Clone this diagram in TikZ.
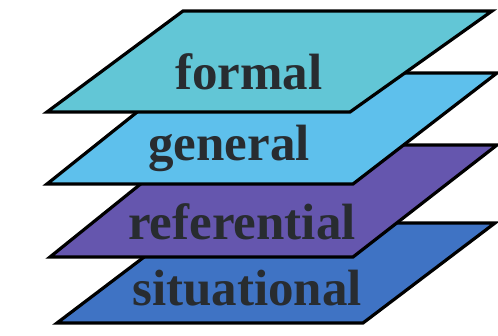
\documentclass[tikz,border=0pt]{standalone}
\usepackage{fontspec}
\setmainfont{Liberation Serif}
\definecolor{formalfill}{RGB}{98,198,214}
\definecolor{generalfill}{RGB}{94,192,236}
\definecolor{reffill}{RGB}{101,86,174}
\definecolor{sitfill}{RGB}{63,115,196}
\definecolor{labeltext}{RGB}{40,44,48}
\begin{document}
\begin{tikzpicture}[x=0.5pt,y=-0.5pt,plane/.style={draw=black,line width=1.6pt,line join=miter},
layer/.style={anchor=base,inner sep=0pt,text=labeltext,font=\fontsize{25.5}{30}\selectfont\bfseries}]

\useasboundingbox (0,0) rectangle (498,336);

% planes from the bottom up, so the upper ones cover the lower
\foreach \name/\xl/\yb/\xr/\yt/\tl/\tr/\col in {sit/57/323/363/223/189/495/sitfill, ref/50/257/353/145/189/497/reffill, gen/47/184/353/73/186/497/generalfill, frm/47/112/350/11/183/492/formalfill}{
\filldraw [plane, fill=\col] (\xl,\yb) -- (\xr,\yb) -- (\tr,\yt) -- (\tl,\yt) -- cycle;
}

\node [layer] (formal) at (249,90) {formal};
\node [layer] (general) at (229,161) {general};
\node [layer] (referential) at (242,240) {referential};
\node [layer] (situational) at (247,306) {situational};

\end{tikzpicture}
\end{document}
